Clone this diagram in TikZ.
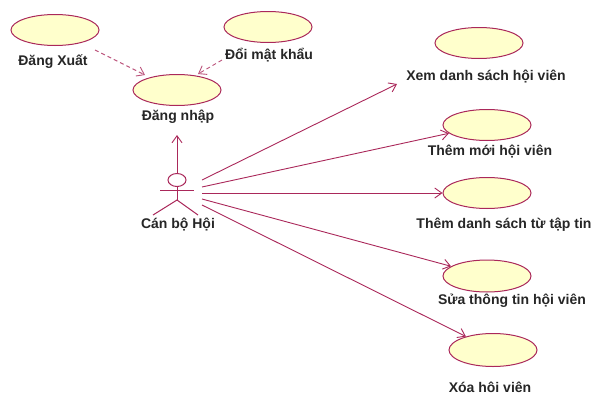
\documentclass[tikz,border=0pt]{standalone}
\usepackage{fontspec}
\setmainfont{Liberation Sans}
\usetikzlibrary{arrows.meta,shapes.geometric}
\definecolor{umlline}{RGB}{170,40,90}
\definecolor{umlfill}{RGB}{255,255,204}
\tikzset{
  usecase/.style={ellipse, draw=umlline, fill=umlfill, line width=1pt, minimum width=88pt, minimum height=31pt, inner sep=0pt},
  lbl/.style={font=\bfseries\fontsize{14}{16}\selectfont, text=black!85, inner sep=0pt},
  assoc/.style={draw=umlline, line width=0.9pt, -{Straight Barb[length=7pt,width=10pt]}},
  dep/.style={draw=umlline!80, line width=0.9pt, dashed, dash pattern=on 4pt off 3pt, -{Straight Barb[length=7pt,width=10pt]}},
  actorline/.style={draw=umlline, line width=1pt}
}
\begin{document}
\begin{tikzpicture}[x=1pt,y=-1pt]
\useasboundingbox (0,0) rectangle (595,394);
% use cases
\node[usecase] (dx) at (55,30) {};
\node[lbl] (dxl) at (53,62) {Đăng Xuất};
\node[usecase] (doi) at (268,27) {};
\node[lbl] (doil) at (269,55) {Đổi mật khẩu};
\node[usecase] (dn) at (177,90) {};
\node[lbl] (dnl) at (178,117) {Đăng nhập};
\node[usecase] (xem) at (479,43) {};
\node[lbl] (xeml) at (486,77) {Xem danh sách hội viên};
\node[usecase] (them) at (487,125) {};
\node[lbl] (theml) at (490,152) {Thêm mới hội viên};
\node[usecase] (tds) at (487,193) {};
\node[lbl] (tdsl) at (504,225) {Thêm danh sách từ tập tin};
\node[usecase, minimum height=32pt] (sua) at (487,276) {};
\node[lbl] (sual) at (512,301) {Sửa thông tin hội viên};
\node[usecase, minimum height=33pt] (xoa) at (493,350) {};
\node[lbl] (xoal) at (490,387) {Xóa hôi viên};
% actor
\node[ellipse, actorline, minimum width=18pt, minimum height=13pt, inner sep=0pt] (head) at (177,180) {};
\coordinate (hip) at (177,200);
\coordinate (armL) at (160,190);
\coordinate (armR) at (194,190);
\coordinate (footL) at (153,215);
\coordinate (footR) at (198,215);
\draw[actorline] (head.south) -- (hip);
\draw[actorline] (armL) -- (armR);
\draw[actorline] (footL) -- (hip) -- (footR);
\node[lbl] (actl) at (178,225) {Cán bộ Hội};
% connectors
\coordinate (dntip) at (177,135);
\draw[assoc] (head.north) -- (dntip);
\coordinate (s1) at (202,180);
\coordinate (s2) at (202,187);
\coordinate (s3) at (202,193);
\coordinate (s4) at (202,199);
\coordinate (s5) at (202,205);
\coordinate (xemtip) at (397,84);
\draw[assoc] (s1) -- (xemtip);
\draw[assoc] (s2) -- (them);
\draw[assoc] (s3) -- (tds);
\draw[assoc] (s4) -- (sua);
\draw[assoc] (s5) -- (xoa);
\coordinate (dxs) at (95,50);
\coordinate (dxt) at (145,75);
\coordinate (dois) at (222,60);
\coordinate (doit) at (198,74);
\draw[dep] (dxs) -- (dxt);
\draw[dep] (dois) -- (doit);
\end{tikzpicture}
\end{document}
